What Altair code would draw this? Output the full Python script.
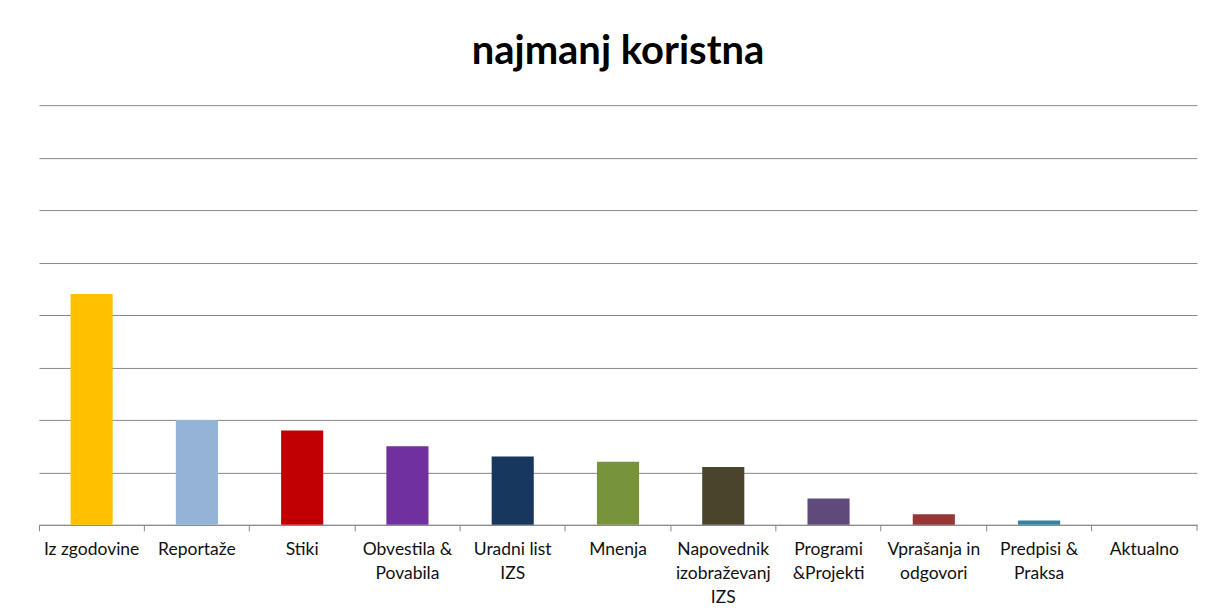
import altair as alt
import pandas as pd

categories = ["Iz zgodovine", "Reportaže", "Stiki", "Obvestila &\nPovabila", "Uradni list\nIZS",
              "Mnenja", "Napovednik\nizobraževanj\nIZS", "Programi\n&Projekti",
              "Vprašanja in\nodgovori", "Predpisi &\nPraksa", "Aktualno"]
values = [4.4, 2.0, 1.8, 1.5, 1.3, 1.2, 1.1, 0.5, 0.2, 0.08, 0.0]
colors = ["#FFC000", "#95B3D7", "#C00000", "#7030A0", "#17375E", "#77933C",
          "#4A452A", "#604A7B", "#953735", "#31859C", "#F79646"]
grid_values = [0, 1, 2, 3, 4, 5, 6, 7, 8]

df = pd.DataFrame({"cat": categories, "val": values})

W, H = 1159, 420

bars = alt.Chart(df).mark_bar(width={"band": 0.4}).encode(
    x=alt.X("cat:N", sort=categories, title=None,
            scale=alt.Scale(paddingInner=0, paddingOuter=0),
            axis=alt.Axis(bandPosition=0, labelAngle=0, labelExpr="split(datum.value, '\\n')",
                          labelFont="Lato", labelFontSize=17.5, labelColor="#111111",
                          labelPadding=10, labelLineHeight=24, labelBaseline="top",
                          tickColor="#888888", tickSize=6, domainColor="#888888",
                          labelBound=False, labelOverlap=False, labelFlush=False)),
    y=alt.Y("val:Q", title=None, scale=alt.Scale(domain=[0, 8], nice=False),
            axis=alt.Axis(values=grid_values, labels=False, ticks=False, domain=False,
                          grid=True, gridColor="#888888", gridWidth=1)),
    color=alt.Color("cat:N", sort=categories, legend=None,
                    scale=alt.Scale(domain=categories, range=colors)),
)

end_tick = alt.Chart(df.head(1)).mark_rule(color="#888888").encode(
    x=alt.value(W), y=alt.value(H), y2=alt.value(H + 6))

chart = alt.layer(bars, end_tick).properties(
    width=W, height=H,
    background="white",
    padding={"left": 30, "top": 24, "right": 0, "bottom": 0},
    title=alt.TitleParams("najmanj koristna", font="Lato", fontSize=40, fontWeight="bold",
                          color="#000000", anchor="middle", offset=33),
).configure_view(stroke=None)

chart.save("out.html", embed_options={"renderer": "svg", "actions": False})
